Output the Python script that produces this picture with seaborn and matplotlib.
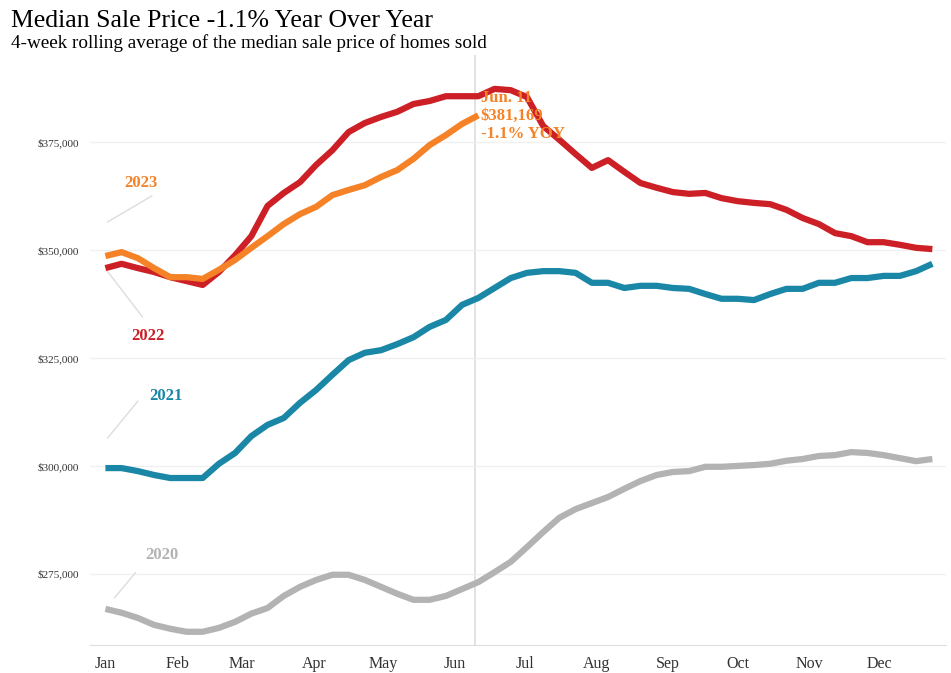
import matplotlib
matplotlib.use("Agg")
import matplotlib.pyplot as plt
import seaborn as sns
import pandas as pd

y2022 = [345.8,346.8,345.8,344.9,343.7,342.8,341.9,344.9,348.8,353.2,360.2,363.2,365.7,369.7,373.1,377.3,379.4,380.8,382.0,383.8,384.5,385.6,385.6,385.6,387.3,387.0,385.4,378.7,375.5,372.2,369.0,370.8,368.1,365.5,364.4,363.4,363.0,363.2,362.0,361.3,360.9,360.6,359.3,357.4,356.0,353.9,353.2,351.8,351.8,351.2,350.5,350.2]
y2023 = [348.6,349.5,348.1,345.8,343.7,343.7,343.3,345.4,347.7,350.5,353.2,356.0,358.3,360.0,362.7,363.9,365.0,366.9,368.5,371.1,374.3,376.6,379.2,381.169]
y2021 = [299.5,299.5,298.8,297.9,297.2,297.2,297.2,300.5,303.0,306.9,309.5,311.1,314.6,317.6,321.1,324.5,326.2,326.8,328.2,329.8,332.2,333.8,337.3,338.9,341.2,343.5,344.7,345.1,345.1,344.7,342.4,342.4,341.2,341.7,341.7,341.2,341.0,339.8,338.7,338.7,338.4,339.8,341.0,341.0,342.4,342.4,343.5,343.5,344.0,344.0,345.1,346.8]
y2020 = [266.9,266.0,264.8,263.2,262.3,261.6,261.6,262.5,263.9,265.8,267.1,269.9,272.0,273.6,274.8,274.8,273.6,272.0,270.4,269.0,269.0,269.9,271.5,273.1,275.4,277.8,281.2,284.7,288.0,290.0,291.4,292.8,294.7,296.5,297.9,298.6,298.8,299.8,299.8,300.0,300.2,300.5,301.2,301.6,302.3,302.5,303.2,303.0,302.5,301.8,301.1,301.6]
months = ["Jan","Feb","Mar","Apr","May","Jun","Jul","Aug","Sep","Oct","Nov","Dec"]
month_days = [1,32,60,91,121,152,182,213,244,274,305,335]
yticks = [275000,300000,325000,350000,375000]

colors = {"2020":"#b3b3b3","2021":"#1a87a6","2022":"#cc1f26","2023":"#f58226"}
rows = []
for yr, vals in [("2020",y2020),("2021",y2021),("2022",y2022),("2023",y2023)]:
    for i, v in enumerate(vals):
        rows.append({"day": 1 + 7*i, "price": v*1000, "year": yr})
df = pd.DataFrame(rows)

serif = "Liberation Serif"
plt.rcParams["font.family"] = serif
fig = plt.figure(figsize=(9.51, 6.73), dpi=100)
ax = fig.add_axes([0.095, 0.042, 0.9, 0.876])
ax.axvline(160.5, color="#dddddd", lw=1.2, zorder=0)
sns.lineplot(data=df, x="day", y="price", hue="year", palette=colors, lw=4.5,
             legend=False, ax=ax, solid_capstyle="butt")
ax.set_xlim(-5.5, 364)
ax.set_ylim(258600, 395100)
ax.set_xticks(month_days)
ax.set_xticklabels(months, fontsize=11.5, color="#333333")
ax.set_yticks(yticks)
ax.set_yticklabels([f"${v:,}" for v in yticks], fontsize=8, color="#333333")
ax.grid(axis="y", color="#f0f0f0", lw=1)
ax.set_axisbelow(True)
for s in ["top","right","left"]:
    ax.spines[s].set_visible(False)
ax.spines["bottom"].set_color("#dddddd")
ax.tick_params(length=0, pad=8)
ax.set_xlabel(""); ax.set_ylabel("")

def lab(txt, tx, ty, x0, y0, x1, y1, c):
    ax.plot([x0, x1], [y0*1000, y1*1000], color="#dddddd", lw=1)
    ax.text(tx, ty*1000, txt, color=c, fontsize=12, fontweight="bold", ha="left", va="center")
lab("2023", 9, 365.5, 2, 356.5, 21, 362.5, colors["2023"])
lab("2022", 12, 330.0, 2, 345.0, 17, 334.5, colors["2022"])
lab("2021", 20, 316.3, 2, 306.5, 15, 315.0, colors["2021"])
lab("2020", 18, 279.3, 5, 269.5, 14, 275.3, colors["2020"])

ax.text(163, 387000, "Jun. 11\n$381,169\n-1.1% YOY", color=colors["2023"], fontsize=12,
        fontweight="bold", va="top", ha="left", linespacing=1.15)

fig.text(0.012, 0.985, "Median Sale Price -1.1% Year Over Year", fontsize=18.5, va="top")
fig.text(0.012, 0.95, "4-week rolling average of the median sale price of homes sold", fontsize=13.8, va="top")
fig.savefig("out.png", dpi=100)
